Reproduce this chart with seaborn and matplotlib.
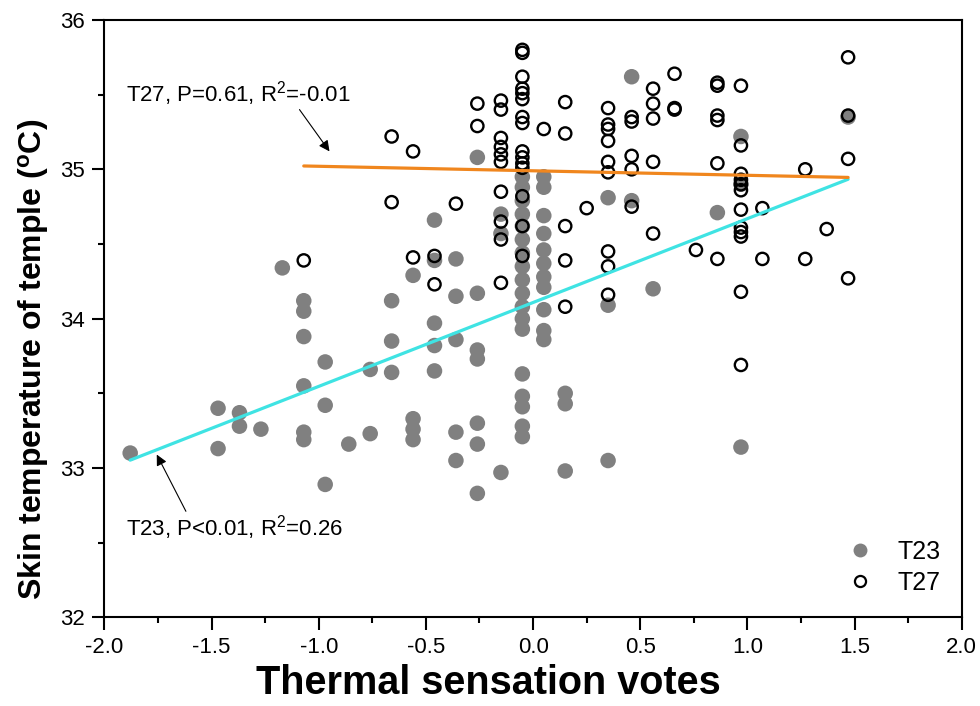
import matplotlib
matplotlib.use('Agg')
import matplotlib.pyplot as plt
from matplotlib.lines import Line2D
from matplotlib.ticker import MultipleLocator, FormatStrFormatter
import pandas as pd
import seaborn as sns

# T23 condition (filled grey): thermal sensation vote vs temple skin temperature
t23_tsv = [-1.88,
           -1.47, -1.47,
           -1.37, -1.37,
           -1.27,
           -1.17,
           -1.07, -1.07, -1.07, -1.07, -1.07, -1.07,
           -0.97, -0.97, -0.97,
           -0.86,
           -0.76, -0.76,
           -0.66, -0.66, -0.66,
           -0.56, -0.56, -0.56, -0.56,
           -0.46, -0.46, -0.46, -0.46, -0.46,
           -0.36, -0.36, -0.36, -0.36, -0.36,
           -0.26, -0.26, -0.26, -0.26, -0.26, -0.26, -0.26,
           -0.15, -0.15, -0.15,
           -0.05, -0.05, -0.05, -0.05, -0.05, -0.05, -0.05, -0.05, -0.05,
           -0.05, -0.05, -0.05, -0.05, -0.05, -0.05, -0.05, -0.05, -0.05,
           0.05, 0.05, 0.05, 0.05, 0.05, 0.05, 0.05, 0.05, 0.05, 0.05, 0.05,
           0.15, 0.15, 0.15,
           0.35, 0.35, 0.35,
           0.46, 0.46,
           0.56,
           0.86,
           0.97, 0.97, 0.97,
           1.47]
t23_temp = [33.10,
            33.40, 33.13,
            33.37, 33.28,
            33.26,
            34.34,
            34.12, 34.05, 33.88, 33.55, 33.24, 33.19,
            33.71, 33.42, 32.89,
            33.16,
            33.66, 33.23,
            34.12, 33.85, 33.64,
            34.29, 33.33, 33.26, 33.19,
            34.66, 34.39, 33.97, 33.82, 33.65,
            34.40, 34.15, 33.86, 33.24, 33.05,
            35.08, 34.17, 33.79, 33.73, 33.30, 33.16, 32.83,
            34.70, 34.57, 32.97,
            34.95, 34.88, 34.79, 34.70, 34.62, 34.53, 34.44, 34.35, 34.26,
            34.17, 34.08, 34.00, 33.93, 33.63, 33.48, 33.41, 33.28, 33.21,
            34.95, 34.88, 34.69, 34.57, 34.46, 34.37, 34.28, 34.21, 34.06, 33.92, 33.86,
            33.50, 33.43, 32.98,
            34.81, 34.09, 33.05,
            35.62, 34.79,
            34.20,
            34.71,
            35.22, 34.90, 33.14,
            35.35]

# T27 condition (open circles)
t27_tsv = [-1.07,
           -0.66, -0.66,
           -0.56, -0.56,
           -0.46, -0.46,
           -0.36,
           -0.26, -0.26,
           -0.15, -0.15, -0.15, -0.15, -0.15, -0.15, -0.15, -0.15, -0.15, -0.15,
           -0.05, -0.05, -0.05, -0.05, -0.05, -0.05, -0.05, -0.05,
           -0.05, -0.05, -0.05, -0.05, -0.05, -0.05, -0.05,
           0.05,
           0.15, 0.15, 0.15, 0.15, 0.15,
           0.25,
           0.35, 0.35, 0.35, 0.35, 0.35, 0.35, 0.35, 0.35, 0.35,
           0.46, 0.46, 0.46, 0.46, 0.46,
           0.56, 0.56, 0.56, 0.56, 0.56,
           0.66, 0.66, 0.66,
           0.76,
           0.86, 0.86, 0.86, 0.86, 0.86, 0.86,
           0.97, 0.97, 0.97, 0.97, 0.97, 0.97, 0.97, 0.97, 0.97, 0.97, 0.97, 0.97,
           1.07, 1.07,
           1.27, 1.27,
           1.37,
           1.47, 1.47, 1.47, 1.47]
t27_temp = [34.39,
            35.22, 34.78,
            35.12, 34.41,
            34.42, 34.23,
            34.77,
            35.44, 35.29,
            35.46, 35.40, 35.21, 35.15, 35.10, 35.05, 34.85, 34.65, 34.53, 34.24,
            35.80, 35.78, 35.62, 35.54, 35.51, 35.47, 35.35, 35.31,
            35.12, 35.08, 35.04, 35.01, 34.82, 34.62, 34.42,
            35.27,
            35.45, 35.24, 34.62, 34.39, 34.08,
            34.74,
            35.41, 35.30, 35.27, 35.19, 35.05, 34.98, 34.45, 34.35, 34.16,
            35.35, 35.32, 35.09, 35.00, 34.75,
            35.54, 35.44, 35.34, 35.05, 34.57,
            35.64, 35.41, 35.40,
            34.46,
            35.58, 35.56, 35.36, 35.33, 35.04, 34.40,
            35.56, 35.16, 34.97, 34.93, 34.90, 34.86, 34.73, 34.61, 34.58, 34.55, 34.18, 33.69,
            34.74, 34.40,
            35.00, 34.40,
            34.60,
            35.75, 35.36, 35.07, 34.27]

groups = ['T23', 'T27']
stats_text = ['T23, P<0.01, R$^2$=0.26', 'T27, P=0.61, R$^2$=-0.01']

sns.set_style('ticks')
plt.rcParams['font.family'] = ['Liberation Sans', 'DejaVu Sans']
plt.rcParams['mathtext.fontset'] = 'custom'
plt.rcParams['mathtext.rm'] = 'Liberation Sans'
plt.rcParams['mathtext.it'] = 'Liberation Sans:italic'
plt.rcParams['mathtext.bf'] = 'Liberation Sans:bold'
for key in ['text.color', 'axes.labelcolor', 'xtick.color', 'ytick.color', 'axes.edgecolor']:
    plt.rcParams[key] = 'black'

df23 = pd.DataFrame({'tsv': t23_tsv, 'temp': t23_temp})
df27 = pd.DataFrame({'tsv': t27_tsv, 'temp': t27_temp})

fig = plt.figure(figsize=(9.8, 7.06), dpi=100)
ax = fig.add_axes([0.1066, 0.1256, 0.8747, 0.8461])

grey = '#808080'
cyan = '#3fe3e3'
orange = '#f0861e'

sns.scatterplot(data=df23, x='tsv', y='temp', ax=ax, color=grey, s=125,
                edgecolor='none', zorder=2)
sns.scatterplot(data=df27, x='tsv', y='temp', ax=ax, facecolors='none',
                edgecolor='black', linewidth=1.7, s=78, zorder=3)

# linear fits
sns.regplot(data=df23, x='tsv', y='temp', ax=ax, scatter=False, ci=None,
            truncate=True, color=cyan, line_kws={'lw': 2.3, 'zorder': 4})
sns.regplot(data=df27, x='tsv', y='temp', ax=ax, scatter=False, ci=None,
            truncate=True, color=orange, line_kws={'lw': 2.3, 'zorder': 4})

ax.set_xlim(-2, 2)
ax.set_ylim(32, 36)
ax.xaxis.set_major_locator(MultipleLocator(0.5))
ax.xaxis.set_minor_locator(MultipleLocator(0.25))
ax.yaxis.set_major_locator(MultipleLocator(1))
ax.yaxis.set_minor_locator(MultipleLocator(0.5))
ax.xaxis.set_major_formatter(FormatStrFormatter('%.1f'))
ax.tick_params(which='major', direction='out', length=9, width=1.5,
               labelsize=16, pad=5, top=False, right=False)
ax.tick_params(which='minor', direction='out', length=4.5, width=1.5,
               top=False, right=False)
for sp in ax.spines.values():
    sp.set_linewidth(1.5)

ax.set_xlabel('Thermal sensation votes', fontsize=28.5, fontweight='bold', labelpad=4.5)
ax.set_ylabel(r'Skin temperature of temple ($^{\mathbf{o}}$C)', fontsize=23,
              fontweight='bold', labelpad=6.5)
# labels sit a little off-centre in the original
ax.xaxis.label.set_x(0.4475)
ax.yaxis.label.set_y(0.432)

# annotations with arrows
ax.text(-1.9, 35.51, stats_text[1], fontsize=16, ha='left', va='center')
ax.annotate('', xy=(-0.95, 35.12), xytext=(-1.09, 35.40),
            arrowprops=dict(arrowstyle='-|>', color='black', lw=0.8,
                            mutation_scale=16, shrinkA=0, shrinkB=0))
ax.text(-1.9, 32.60, stats_text[0], fontsize=16, ha='left', va='center')
ax.annotate('', xy=(-1.756, 33.09), xytext=(-1.62, 32.71),
            arrowprops=dict(arrowstyle='-|>', color='black', lw=0.8,
                            mutation_scale=16, shrinkA=0, shrinkB=0))

handles = [Line2D([], [], ls='none', marker='o', markersize=10,
                  markerfacecolor=grey, markeredgecolor='none'),
           Line2D([], [], ls='none', marker='o', markersize=8,
                  markerfacecolor='none', markeredgecolor='black', markeredgewidth=1.6)]
ax.legend(handles, groups, loc='lower right', frameon=False, fontsize=18,
          handletextpad=0.5, labelspacing=0.3, borderaxespad=0.2,
          bbox_to_anchor=(0.993, 0.012))

fig.savefig('out.png', dpi=100)
